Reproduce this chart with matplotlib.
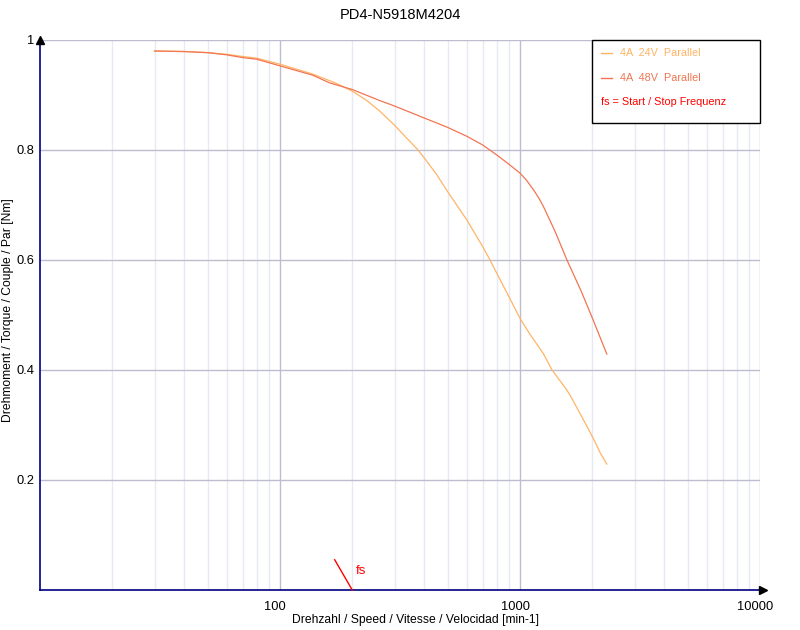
import matplotlib
matplotlib.use("Agg")
import matplotlib.pyplot as plt
import matplotlib.transforms as mtransforms
from matplotlib.patches import Rectangle
from matplotlib.lines import Line2D

plt.rcParams['font.family'] = ['Liberation Sans', 'DejaVu Sans']

title = "PD4-N5918M4204"
xlabel = "Drehzahl / Speed / Vitesse / Velocidad [min-1]"
ylabel = "Drehmoment / Torque / Couple / Par [Nm]"

speed_24 = [30, 40, 50, 60, 70, 80, 100, 137, 170, 200, 230, 260, 300, 340, 376, 400,
            450, 500, 600, 700, 750, 800, 900, 1000, 1100, 1250, 1360, 1470, 1565,
            1642, 1778, 1926, 2050, 2154, 2300]
torque_24 = [0.980, 0.979, 0.977, 0.974, 0.970, 0.967, 0.956, 0.938, 0.922, 0.907,
             0.890, 0.871, 0.845, 0.820, 0.800, 0.785, 0.755, 0.724, 0.673, 0.624,
             0.600, 0.576, 0.533, 0.494, 0.465, 0.430, 0.400, 0.380, 0.364,
             0.349, 0.321, 0.293, 0.270, 0.250, 0.229]

speed_48 = [30, 40, 50, 60, 70, 80, 100, 137, 161, 200, 260, 300, 400, 500, 600,
            700, 800, 900, 1000, 1060, 1137, 1200, 1253, 1400, 1569, 1800, 2017, 2300]
torque_48 = [0.980, 0.979, 0.977, 0.973, 0.968, 0.965, 0.953, 0.936, 0.922, 0.910,
             0.890, 0.880, 0.858, 0.841, 0.825, 0.809, 0.791, 0.774, 0.758, 0.746,
             0.728, 0.712, 0.697, 0.652, 0.600, 0.543, 0.491, 0.429]

labels = ["4A  24V  Parallel", "4A  48V  Parallel"]
fs_label = "fs = Start / Stop Frequenz"
fs_speed = 200
fs_line_x = [169, 200]
fs_line_y = [0.055, 0.0]

y_ticks = [0.2, 0.4, 0.6, 0.8, 1.0]
y_ticklabels = ["0.2", "0.4", "0.6", "0.8", "1"]
x_ticks = [100, 1000, 10000]
x_ticklabels = ["100", "1000", "10000"]

c24 = "#FFB466"
c48 = "#F27552"
red = "#FF0000"
navy = "#000080"
grid_major = "#BDBDCF"
grid_minor = "#E6EAF2"

W, H = 800, 630
fig = plt.figure(figsize=(8, 6.3), dpi=100)
ax = fig.add_axes([40 / W, 40 / H, 720 / W, 550 / H])
ax.set_xscale("log")
ax.set_xlim(10, 10000)
ax.set_ylim(0, 1.0)

# grid
minor_pos = [m * 10 ** e for e in (1, 2, 3) for m in range(2, 10)]
for v in minor_pos:
    ax.axvline(v, color=grid_minor, lw=1, zorder=0)
for v in x_ticks:
    ax.axvline(v, color=grid_major, lw=1, zorder=0.5)
for v in y_ticks:
    ax.axhline(v, color=grid_major, lw=1, zorder=0.5)

ax.plot(speed_24, torque_24, color=c24, lw=0.9, zorder=3)
ax.plot(speed_48, torque_48, color=c48, lw=0.9, zorder=3)

# fs marker
ax.plot(fs_line_x, fs_line_y, color=red, lw=1, zorder=4, clip_on=False)
ax.text(fs_speed * 1.04, 0.035, "fs", color=red, fontsize=9.5, ha="left", va="center")

for s in ("top", "right"):
    ax.spines[s].set_visible(False)
for s in ("left", "bottom"):
    ax.spines[s].set_color(navy)
    ax.spines[s].set_linewidth(1.2)

ax.plot([0], [1], marker="^", color="black", markersize=6, transform=ax.transAxes,
        clip_on=False, zorder=5)
ax.plot([1.004], [0], marker=">", color="black", markersize=6, transform=ax.transAxes,
        clip_on=False, zorder=5)

ax.set_yticks(y_ticks)
ax.set_yticklabels(y_ticklabels)
ax.set_xticks(x_ticks)
ax.set_xticklabels(x_ticklabels)
ax.xaxis.set_minor_locator(matplotlib.ticker.NullLocator())
ax.tick_params(axis="both", length=0, labelsize=9.3, colors="black")
ax.tick_params(axis="x", pad=8)
ax.tick_params(axis="y", pad=4)
offset = mtransforms.ScaledTranslation(-5 / 100, 0, fig.dpi_scale_trans)
for lab in ax.get_xticklabels():
    lab.set_transform(lab.get_transform() + offset)

fig.text(400 / W, 1 - 15 / H, title, ha="center", va="center", fontsize=10.5)
fig.text(416 / W, 1 - 620 / H, xlabel, ha="center", va="center", fontsize=8.7)
fig.text(8 / W, 1 - 310 / H, ylabel, ha="center", va="center", rotation=90, fontsize=8.7)

# legend box
fig.patches.append(Rectangle((592 / W, 1 - 123 / H), 168 / W, 83 / H,
                             transform=fig.transFigure, facecolor="white",
                             edgecolor="black", lw=1, zorder=10))
for yy, col, lab in [(53, c24, labels[0]), (78, c48, labels[1])]:
    fig.lines.append(Line2D([601 / W, 612 / W], [1 - yy / H, 1 - yy / H],
                            transform=fig.transFigure, color=col, lw=1, zorder=11))
    fig.text(620 / W, 1 - yy / H, lab, color=col, fontsize=7.8, ha="left",
             va="center", zorder=11)
fig.text(601 / W, 1 - 102 / H, fs_label, color=red, fontsize=7.8, ha="left",
         va="center", zorder=11)

fig.savefig("out.png", dpi=100)
